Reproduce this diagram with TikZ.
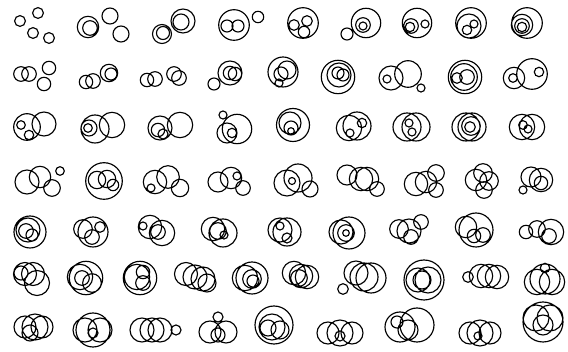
\documentclass[tikz,border=0pt]{standalone}
\begin{document}
\begin{tikzpicture}[x=1pt,y=-1pt,ring/.style={draw=black,line width=1.15pt,fill=none}]
\path[use as bounding box,fill=white] (0,0) rectangle (568,352);
% row 1
\draw[ring] (20,21) circle[radius=5.4] (38,13) circle[radius=5.4] (33,33) circle[radius=5.4] (49,38) circle[radius=5.4];
\draw[ring] (88,27) circle[radius=10.7] (90,28) circle[radius=7.3] (110,16) circle[radius=8] (121,34) circle[radius=8];
\draw[ring] (162,34) circle[radius=9.5] (163,33) circle[radius=6.5] (183,21) circle[radius=12] (181,22) circle[radius=8];
\draw[ring] (234,25) circle[radius=15.3] (227,26) circle[radius=6] (238,26) circle[radius=6] (258,17) circle[radius=5.7];
\draw[ring] (303,23) circle[radius=15.3] (294,25) circle[radius=5.3] (307,21) circle[radius=5.3] (304,32) circle[radius=5.7];
\draw[ring] (366,23) circle[radius=14.7] (363,25) circle[radius=7.3] (363,26) circle[radius=4] (347,34) circle[radius=6];
\draw[ring] (417,23) circle[radius=14.7] (411,26) circle[radius=7.3] (410,27) circle[radius=4.7] (425,24) circle[radius=4];
\draw[ring] (471,23) circle[radius=15.3] (469,26) circle[radius=12] (467,30) circle[radius=4.7] (474,24) circle[radius=4];
\draw[ring] (527,23) circle[radius=15.3] (522,25) circle[radius=10.7] (522,26) circle[radius=7.3] (522,27) circle[radius=4.7];
% row 2
\draw[ring] (21,74) circle[radius=7.3] (29,74) circle[radius=7.3] (49,68) circle[radius=6.7] (44,84) circle[radius=6.7];
\draw[ring] (86,82) circle[radius=6.7] (93,81) circle[radius=7.3] (109,73) circle[radius=8.7] (111,74) circle[radius=6];
\draw[ring] (147,80) circle[radius=6.7] (155,79) circle[radius=7.3] (174,74) circle[radius=7.3] (179,78) circle[radius=7.3];
\draw[ring] (214,84) circle[radius=6] (230,73) circle[radius=12] (230,73) circle[radius=6.7] (235,74) circle[radius=6.7];
\draw[ring] (283,72) circle[radius=15] (287,70) circle[radius=9] (281,74) circle[radius=7] (279,83) circle[radius=4];
\draw[ring] (338,77) circle[radius=16.7] (339,75) circle[radius=12] (338,73) circle[radius=6] (343,75) circle[radius=6];
\draw[ring] (391,78) circle[radius=12] (408,74) circle[radius=13.3] (387,79) circle[radius=4] (421,88) circle[radius=4];
\draw[ring] (465,77) circle[radius=16.7] (464,77) circle[radius=13.3] (457,78) circle[radius=5.3] (467,77) circle[radius=7.3];
\draw[ring] (514,78) circle[radius=10.7] (532,74) circle[radius=15.3] (513,78) circle[radius=4.3] (539,72) circle[radius=4.7];
% row 3
\draw[ring] (27,127) circle[radius=13.3] (44,124) circle[radius=12] (21,125) circle[radius=4.3] (29,135) circle[radius=4.7];
\draw[ring] (95,129) circle[radius=14] (112,125) circle[radius=12.7] (89,128) circle[radius=8] (88,128) circle[radius=4.3];
\draw[ring] (160,128) circle[radius=12] (180,125) circle[radius=12.7] (158,130) circle[radius=6.7] (163,134) circle[radius=5];
\draw[ring] (223,115) circle[radius=4] (227,133) circle[radius=10] (237,129) circle[radius=14.7] (232,133) circle[radius=4.7];
\draw[ring] (293,125) circle[radius=16.5] (290,123) circle[radius=11] (291,128) circle[radius=7] (291,131) circle[radius=3.3];
\draw[ring] (349,128) circle[radius=12.7] (357,126) circle[radius=14] (362,123) circle[radius=4.7] (350,133) circle[radius=4];
\draw[ring] (407,127) circle[radius=14] (416,127) circle[radius=14] (409,123) circle[radius=4] (412,132) circle[radius=4];
\draw[ring] (466,127) circle[radius=14] (472,127) circle[radius=14] (471,126) circle[radius=9.3] (470,127) circle[radius=5.3];
\draw[ring] (522,127) circle[radius=12.7] (532,127) circle[radius=12.7] (523,125) circle[radius=4.3] (528,129) circle[radius=4];
% row 4
\draw[ring] (27,182) circle[radius=12] (40,177) circle[radius=10.7] (52,188) circle[radius=8.3] (60,171) circle[radius=4.3];
\draw[ring] (104,181) circle[radius=18.3] (97,180) circle[radius=8.7] (107,179) circle[radius=8.7] (113,185) circle[radius=5.7];
\draw[ring] (155,182) circle[radius=11.7] (168,177) circle[radius=11.3] (180,188) circle[radius=8.7] (151,188) circle[radius=4];
\draw[ring] (218,182) circle[radius=10] (231,178) circle[radius=10.7] (237,176) circle[radius=4] (243,188) circle[radius=7.3];
\draw[ring] (287,183) circle[radius=13] (298,178) circle[radius=14] (292,181) circle[radius=3.5] (310,189) circle[radius=8];
\draw[ring] (347,175) circle[radius=10] (361,179) circle[radius=11.7] (367,179) circle[radius=11.7] (377,189) circle[radius=7.3];
\draw[ring] (416,184) circle[radius=11.7] (426,182) circle[radius=10.7] (436,173) circle[radius=8.3] (436,190) circle[radius=7.3];
\draw[ring] (483,173) circle[radius=9.3] (476,180) circle[radius=10.7] (489,181) circle[radius=9.3] (484,190) circle[radius=8.3];
\draw[ring] (531,177) circle[radius=10] (541,180) circle[radius=11.7] (541,183) circle[radius=6.7] (523,190) circle[radius=4];
% row 5
\draw[ring] (30,232) circle[radius=16] (28,230) circle[radius=12] (26,231) circle[radius=7.3] (32,235) circle[radius=6];
\draw[ring] (93,232) circle[radius=15] (83,229) circle[radius=9.3] (100,227) circle[radius=5.3] (92,237) circle[radius=7.3];
\draw[ring] (150,227) circle[radius=11.7] (162,233) circle[radius=12.7] (143,226) circle[radius=4] (158,232) circle[radius=7.3];
\draw[ring] (213,229) circle[radius=11.7] (223,233) circle[radius=14] (218,231) circle[radius=8.3] (224,235) circle[radius=4];
\draw[ring] (280,230) circle[radius=12] (287,232) circle[radius=14] (280,226) circle[radius=4] (287,238) circle[radius=5];
\draw[ring] (349,233) circle[radius=16] (341,232) circle[radius=12] (346,233) circle[radius=8.3] (346,233) circle[radius=3.3];
\draw[ring] (399,229) circle[radius=9.3] (409,231) circle[radius=12] (421,222) circle[radius=7.3] (411,237) circle[radius=7.3];
\draw[ring] (466,227) circle[radius=10.7] (476,230) circle[radius=17] (474,236) circle[radius=6.7] (483,235) circle[radius=7.3];
\draw[ring] (526,232) circle[radius=6.7] (537,229) circle[radius=8.3] (551,232) circle[radius=12.7] (549,236) circle[radius=7.3];
% row 6
\draw[ring] (25,274) circle[radius=11.5] (33,274) circle[radius=11.5] (37,283) circle[radius=12.5] (21,273) circle[radius=7];
\draw[ring] (86,278) circle[radius=16.7] (80,277) circle[radius=12.7] (82,278) circle[radius=7.3] (92,283) circle[radius=9.3];
\draw[ring] (140,278) circle[radius=16.7] (137,277) circle[radius=12.7] (143,272) circle[radius=6.7] (143,283) circle[radius=7.3];
\draw[ring] (186,274) circle[radius=11.5] (195,277) circle[radius=12] (203,279) circle[radius=12] (207,283) circle[radius=9];
\draw[ring] (252,278) circle[radius=16] (245,278) circle[radius=12.7] (252,279) circle[radius=9.3] (253,281) circle[radius=6];
\draw[ring] (294,273) circle[radius=11.7] (301,276) circle[radius=11.7] (307,277) circle[radius=11.7] (299,278) circle[radius=8.3];
\draw[ring] (343,289) circle[radius=5.3] (356,273) circle[radius=12] (364,277) circle[radius=14] (371,278) circle[radius=15];
\draw[ring] (424,280) circle[radius=20] (418,280) circle[radius=12] (428,280) circle[radius=13] (422,280) circle[radius=9];
\draw[ring] (468,277) circle[radius=5.3] (481,276) circle[radius=11.7] (489,276) circle[radius=11.7] (497,277) circle[radius=11.7];
\draw[ring] (545,268) circle[radius=4.7] (537,282) circle[radius=12.7] (552,282) circle[radius=12.7] (545,279) circle[radius=15];
% row 7
\draw[ring] (25,327) circle[radius=11] (35,327) circle[radius=13] (42,327) circle[radius=11] (30,333) circle[radius=8];
\draw[ring] (93,330) circle[radius=17] (85,330) circle[radius=12] (100,330) circle[radius=12] (93,333) circle[radius=5];
\draw[ring] (142,330) circle[radius=12] (152,330) circle[radius=12] (160,330) circle[radius=12] (176,330) circle[radius=5];
\draw[ring] (218,317) circle[radius=5] (210,332) circle[radius=11] (226,332) circle[radius=11] (218,335) circle[radius=7];
\draw[ring] (274,325) circle[radius=19] (272,327) circle[radius=13] (268,328) circle[radius=8] (280,330) circle[radius=9];
\draw[ring] (328,333) circle[radius=11] (340,333) circle[radius=13] (352,333) circle[radius=11] (340,336) circle[radius=5];
\draw[ring] (400,327) circle[radius=15] (417,325) circle[radius=17] (397,322) circle[radius=6] (408,330) circle[radius=10];
\draw[ring] (470,333) circle[radius=11] (480,333) circle[radius=13] (490,333) circle[radius=11] (478,336) circle[radius=4];
\draw[ring] (543,322) circle[radius=20] (536,318) circle[radius=13] (550,318) circle[radius=13] (543,325) circle[radius=10];
\end{tikzpicture}
\end{document}
